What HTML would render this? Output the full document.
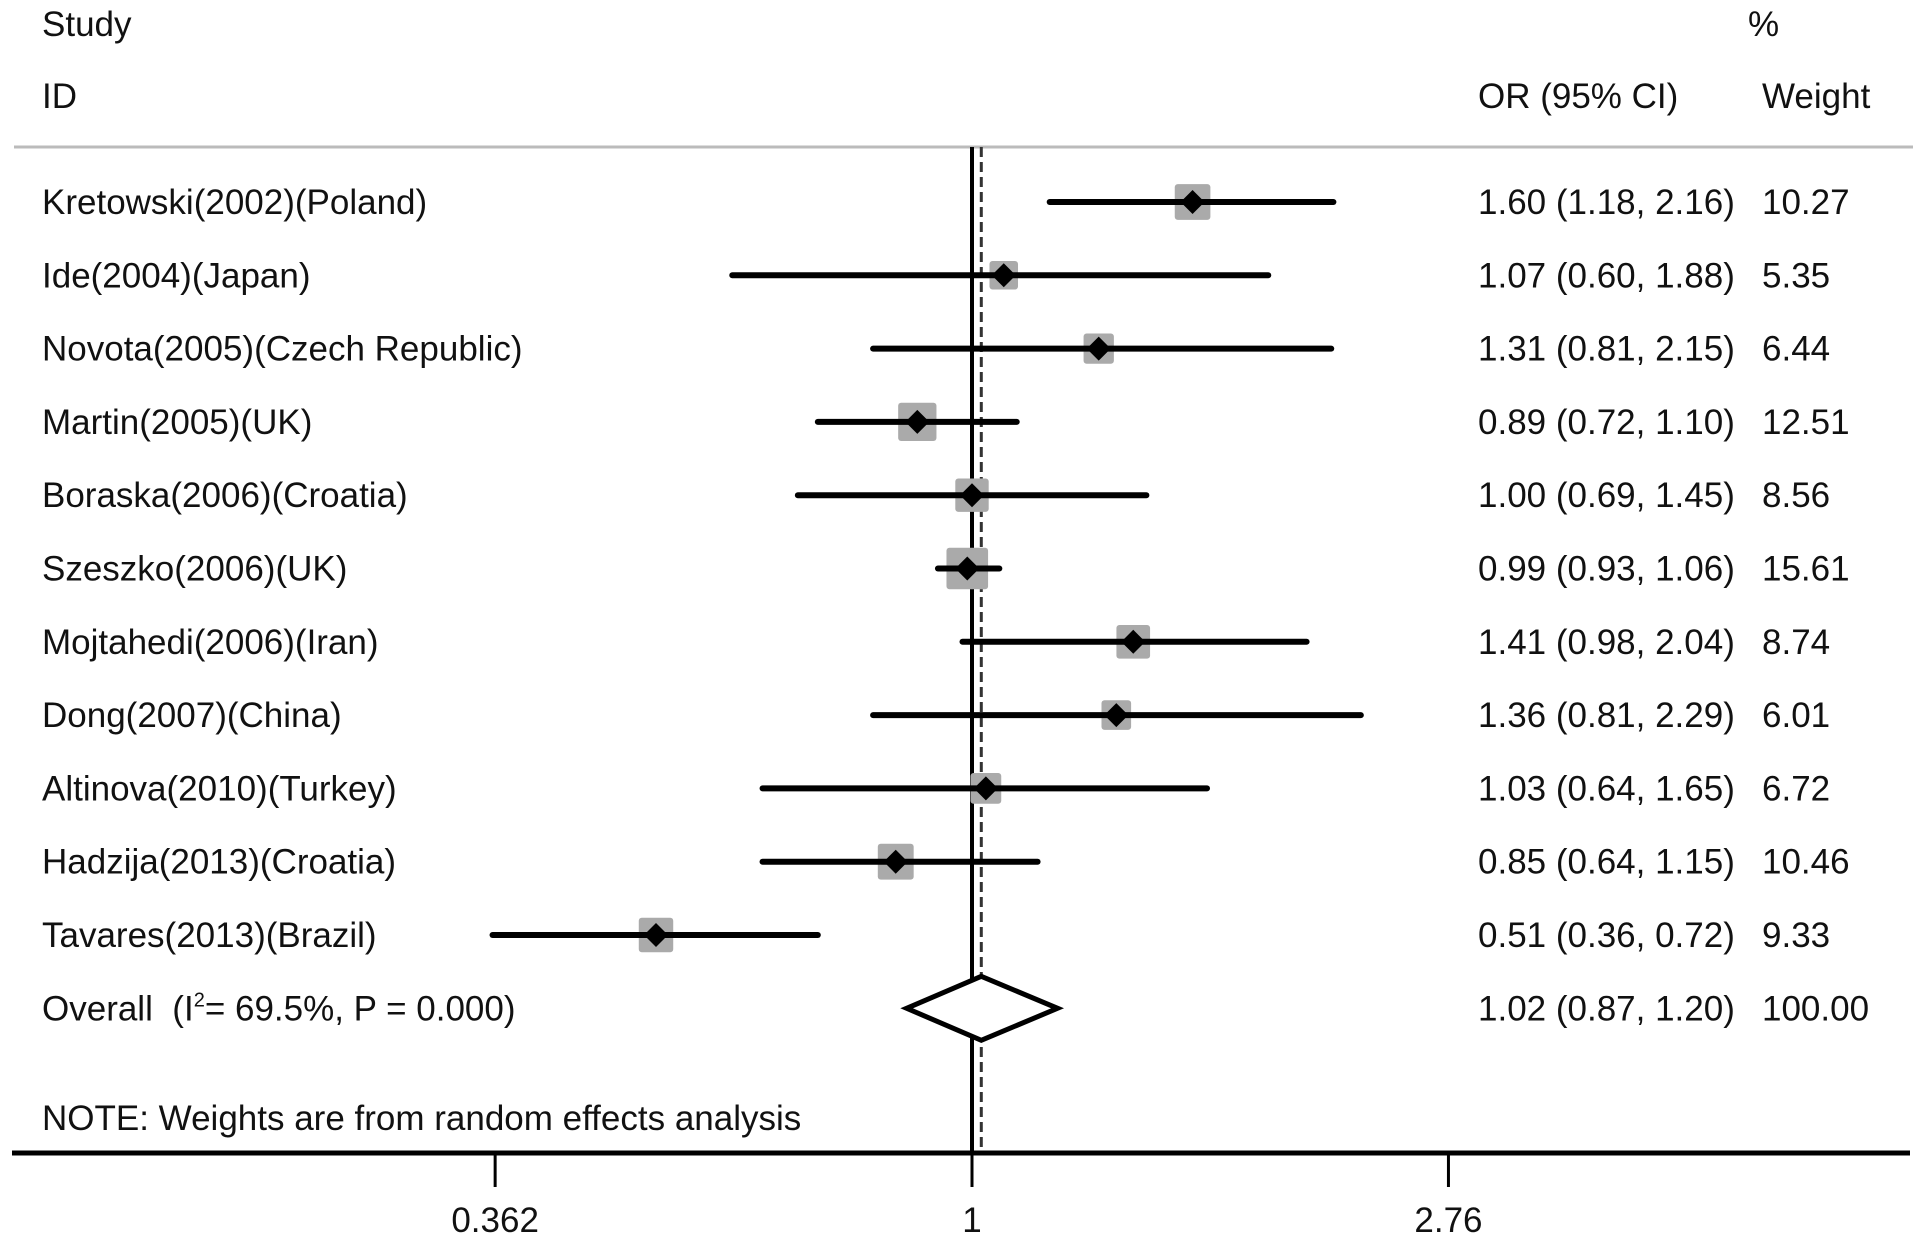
<!DOCTYPE html>
<html><head><meta charset="utf-8"><style>
html,body{margin:0;padding:0;background:#fff;}
svg{display:block;}
text{font-family:"Liberation Sans",Arial,sans-serif;font-size:35px;fill:#111;}
</style></head><body>
<svg id="chart" width="1913" height="1241" viewBox="0 0 1913 1241" xmlns="http://www.w3.org/2000/svg">
<text x="42" y="36">Study</text>
<text x="42" y="108">ID</text>
<text x="1478" y="108">OR (95% CI)</text>
<text x="1748" y="36">%</text>
<text x="1762" y="108">Weight</text>
<line x1="14" y1="147" x2="1913" y2="147" stroke="#bbb" stroke-width="3"/>
<g id="marks"></g>
<text x="42" y="1130">NOTE: Weights are from random effects analysis</text>
<line x1="12" y1="1153" x2="1910" y2="1153" stroke="#000" stroke-width="5"/>
<g id="ticks"></g>
</svg>
<script>
const studies=["Kretowski(2002)(Poland)","Ide(2004)(Japan)","Novota(2005)(Czech Republic)","Martin(2005)(UK)","Boraska(2006)(Croatia)","Szeszko(2006)(UK)","Mojtahedi(2006)(Iran)","Dong(2007)(China)","Altinova(2010)(Turkey)","Hadzija(2013)(Croatia)","Tavares(2013)(Brazil)"];
const orVals=[1.60,1.07,1.31,0.89,1.00,0.99,1.41,1.36,1.03,0.85,0.51];
const lowVals=[1.18,0.60,0.81,0.72,0.69,0.93,0.98,0.81,0.64,0.64,0.36];
const highVals=[2.16,1.88,2.15,1.10,1.45,1.06,2.04,2.29,1.65,1.15,0.72];
const weights=["10.27","5.35","6.44","12.51","8.56","15.61","8.74","6.01","6.72","10.46","9.33"];
const overall=[1.02,0.87,1.20];
const overallWeight="100.00";
const tickVals=[0.362,1,2.76];
const tickLabels=["0.362","1","2.76"];

const NS="http://www.w3.org/2000/svg";
const X=v=>972+469.3*Math.log(v);
const Y=i=>202+73.3*i;
const marks=document.getElementById('marks');
function mk(tag,attrs,parent){const e=document.createElementNS(NS,tag);for(const k in attrs)e.setAttribute(k,attrs[k]);(parent||marks).appendChild(e);return e;}
const f2=v=>v.toFixed(2);

let l=mk('line',{x1:X(1),y1:147,x2:X(1),y2:1153,stroke:'#000','stroke-width':4});


l=mk('line',{x1:X(overall[0]),y1:147,x2:X(overall[0]),y2:1153,stroke:'#333','stroke-width':3,'stroke-dasharray':'10,5'});



studies.forEach((s,i)=>{
  const y=Y(i);
  const t=mk('text',{x:42,y:y+12});t.textContent=s;
  
  
  const side=8*Math.sqrt(parseFloat(weights[i]))+10;
  const sq=mk('rect',{x:X(orVals[i])-side/2,y:y-side/2,width:side,height:side,rx:3,fill:'#aaa'});
  
  
  const ci=mk('line',{x1:X(lowVals[i]),y1:y,x2:X(highVals[i]),y2:y,stroke:'#000','stroke-width':6,'stroke-linecap':'round'});
  
  
  const cx=X(orVals[i]);
  const pt=mk('polygon',{points:`${cx-12},${y} ${cx},${y-12} ${cx+12},${y} ${cx},${y+12}`,fill:'#000'});
  
  
  const o=mk('text',{x:1478,y:y+12});o.textContent=`${f2(orVals[i])} (${f2(lowVals[i])}, ${f2(highVals[i])})`;
  
  
  const w=mk('text',{x:1762,y:y+12});w.textContent=weights[i];
  
  
});
const yo=Y(studies.length);
const ot=mk('text',{x:42,y:yo+12});
ot.innerHTML='Overall&#160;&#160;(I<tspan dy="-14" font-size="20">2</tspan><tspan dy="14">= 69.5%, P = 0.000)</tspan>';


const d=mk('polygon',{points:`${X(overall[1])},${yo} ${X(overall[0])},${yo-32} ${X(overall[2])},${yo} ${X(overall[0])},${yo+32}`,fill:'#fff',stroke:'#000','stroke-width':5});


const oo=mk('text',{x:1478,y:yo+12});oo.textContent=`${f2(overall[0])} (${f2(overall[1])}, ${f2(overall[2])})`;


const ow=mk('text',{x:1762,y:yo+12});ow.textContent=overallWeight;



const ticks=document.getElementById('ticks');
tickVals.forEach((v,i)=>{
  const tk=mk('line',{x1:X(v),y1:1153,x2:X(v),y2:1187,stroke:'#000','stroke-width':3},ticks);
  
  
  const tl=mk('text',{x:X(v),y:1232,'text-anchor':'middle'},ticks);tl.textContent=tickLabels[i];
  
  
});
</script>
</body></html>
